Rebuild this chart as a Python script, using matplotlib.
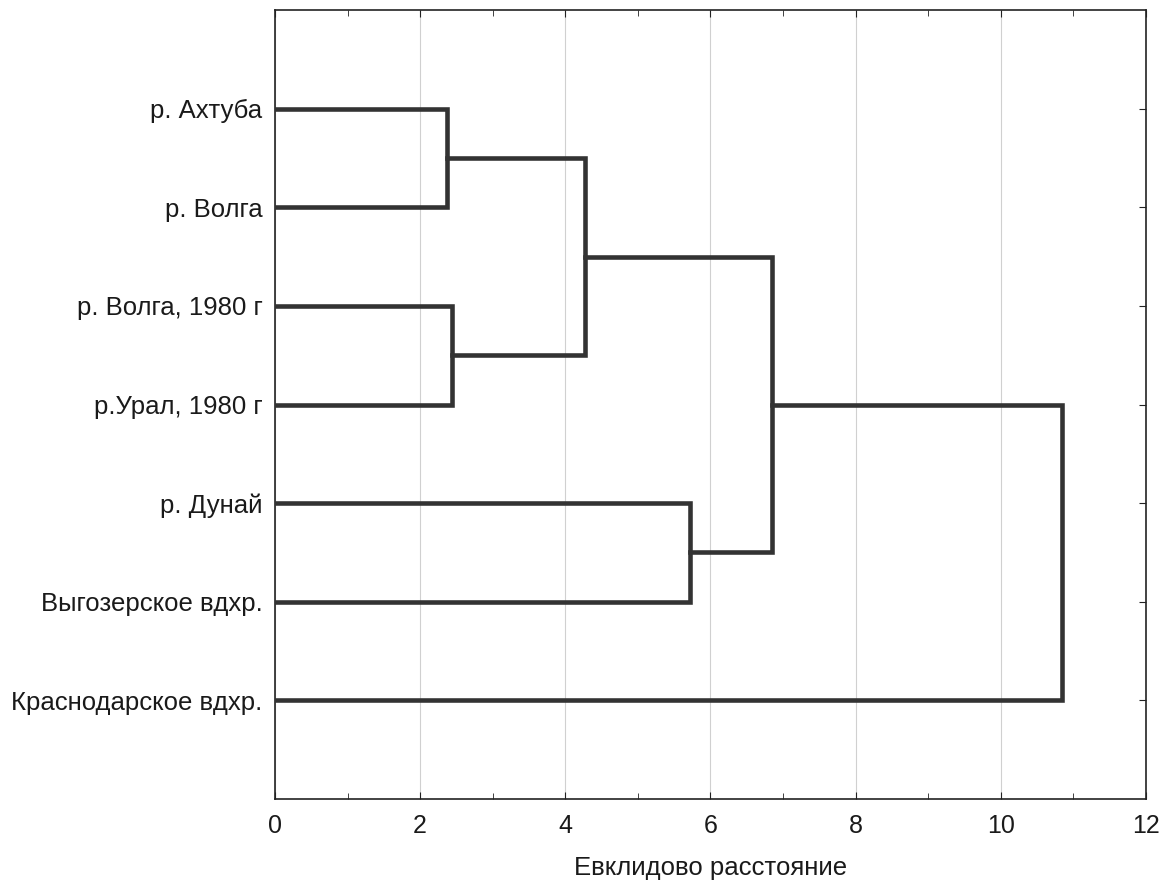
import matplotlib
matplotlib.use('Agg')
import matplotlib.pyplot as plt
from matplotlib.ticker import MultipleLocator

plt.rcParams['font.family'] = ['Liberation Sans', 'DejaVu Sans']

# leaves, top to bottom
labels = ['р. Ахтуба', 'р. Волга', 'р. Волга, 1980 г', 'р.Урал, 1980 г',
          'р. Дунай', 'Выгозерское вдхр.', 'Краснодарское вдхр.']
# merges like a linkage table: cluster a, cluster b, distance
merge_a = [0, 2, 7, 4, 9, 11]
merge_b = [1, 3, 8, 5, 10, 6]
merge_d = [2.37, 2.44, 4.27, 5.72, 6.85, 10.84]

fig = plt.figure(figsize=(11.74, 8.83), dpi=100)
ax = fig.add_axes([0.2342, 0.0951, 0.7419, 0.8936])

col = '#333333'
txt = '#1a1a1a'
ypos = {i: i + 1 for i in range(len(labels))}
xpos = {i: 0.0 for i in range(len(labels))}
n = len(labels)
for k, (a, b, d) in enumerate(zip(merge_a, merge_b, merge_d)):
    ax.plot([xpos[a], d, d, xpos[b]], [ypos[a], ypos[a], ypos[b], ypos[b]],
            color=col, lw=3.3, solid_joinstyle='miter', zorder=3)
    ypos[n + k] = (ypos[a] + ypos[b]) / 2
    xpos[n + k] = d

ax.set_xlim(0, 12)
ax.set_ylim(8, 0)
ax.xaxis.set_major_locator(MultipleLocator(2))
ax.xaxis.set_minor_locator(MultipleLocator(1))
ax.set_yticks(range(1, n + 1))
ax.set_yticklabels(labels)
ax.grid(axis='x', which='major', color='#d0d0d0', lw=0.8, zorder=0)
ax.tick_params(axis='both', which='both', direction='in', top=True, right=True,
               color='#222222', labelcolor=txt)
ax.tick_params(axis='x', which='major', labelsize=18, length=5, pad=11)
ax.tick_params(axis='x', which='minor', length=4)
ax.tick_params(axis='y', labelsize=18.5, length=5, pad=9)
for s in ax.spines.values():
    s.set_color('#222222')
    s.set_linewidth(1.2)
ax.set_xlabel('Евклидово расстояние', fontsize=18.5, labelpad=13, color=txt)

fig.savefig('out.png', dpi=100, facecolor='white')
